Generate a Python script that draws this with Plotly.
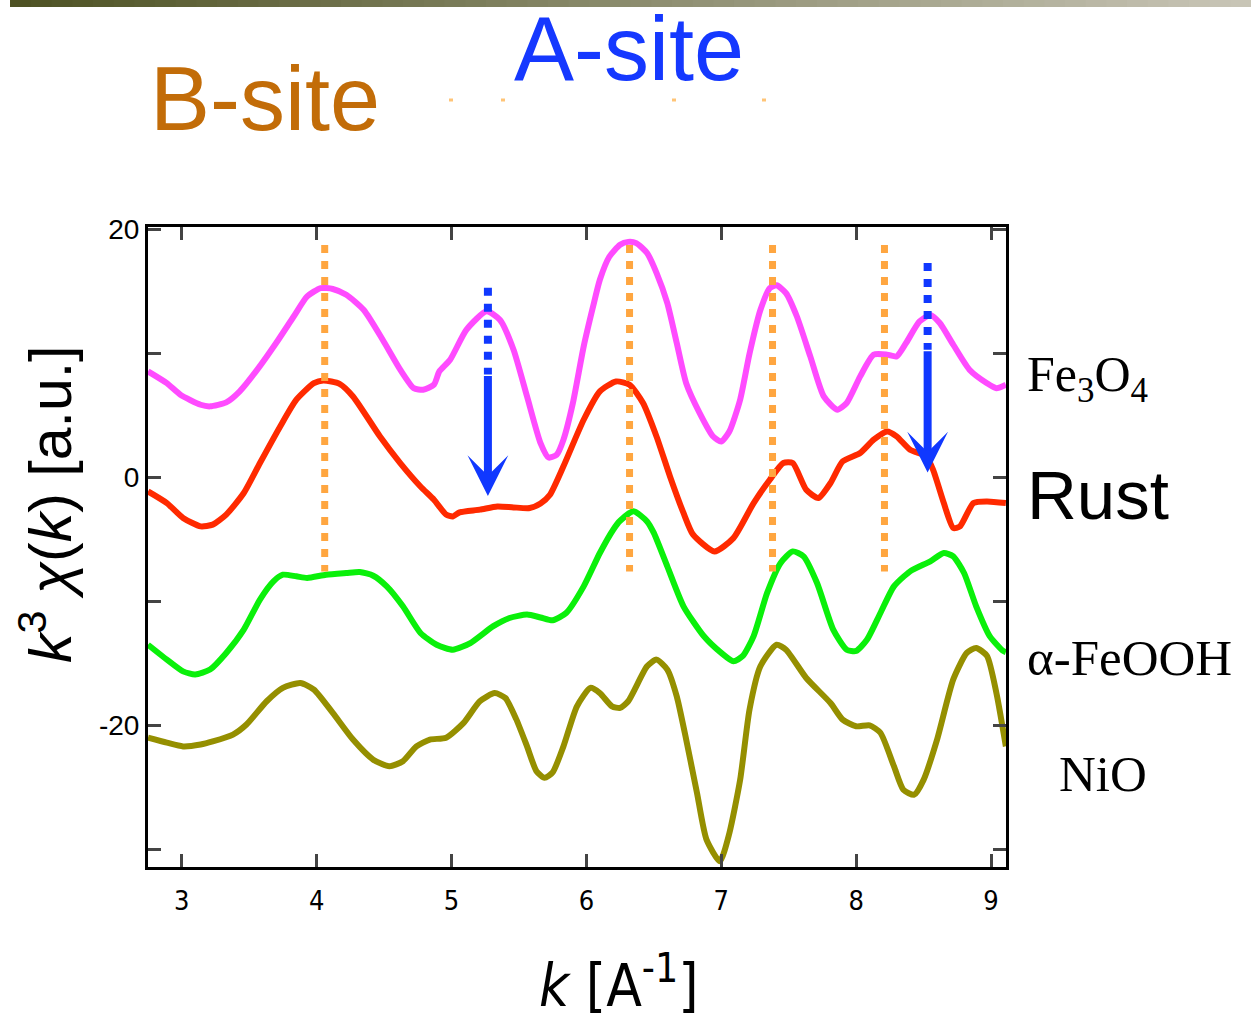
import plotly.graph_objects as go

# ---------------- data ----------------
fe3o4_k = [2.75, 2.89, 2.99, 3.14, 3.21, 3.33, 3.43, 3.56, 3.70, 3.83, 3.93, 4.03, 4.12, 4.22, 4.35, 4.49,
           4.62, 4.72, 4.79, 4.87, 4.91, 4.99, 5.11, 5.26, 5.36, 5.46, 5.56, 5.66, 5.72, 5.78, 5.83, 5.90,
           5.98, 6.05, 6.10, 6.17, 6.25, 6.31, 6.37, 6.45, 6.52, 6.60, 6.67, 6.74, 6.84, 6.94, 7.00, 7.06,
           7.14, 7.21, 7.29, 7.36, 7.41, 7.48, 7.56, 7.66, 7.76, 7.86, 7.93, 8.03, 8.13, 8.23, 8.30, 8.37,
           8.47, 8.55, 8.62, 8.72, 8.84, 8.97, 9.04, 9.11]
fe3o4_y = [8.55, 7.6, 6.67, 5.86, 5.73, 6.05, 6.94, 8.69, 10.84, 12.98, 14.6, 15.27, 15.2, 14.73, 13.5, 11.1,
           8.69, 7.2, 7.07, 7.48, 8.55, 9.49, 11.9, 13.4, 12.7, 10.3, 6.53, 2.77, 1.6, 1.83, 3.04, 6.0,
           10.56, 13.8, 15.94, 17.8, 18.77, 19.0, 18.9, 18.1, 16.5, 14.06, 10.84, 7.6, 5.19, 3.3, 2.9, 3.7,
           6.27, 10.0, 13.5, 15.27, 15.5, 14.87, 13.0, 9.76, 6.53, 5.46, 6.0, 8.15, 9.9, 9.9, 9.76, 10.84,
           12.58, 13.1, 12.45, 10.7, 8.69, 7.6, 7.2, 7.48]

rust_k = [2.75, 2.89, 3.01, 3.14, 3.23, 3.33, 3.46, 3.58, 3.73, 3.85, 3.98, 4.05, 4.17, 4.27, 4.47, 4.62,
          4.77, 4.87, 4.96, 5.01, 5.06, 5.21, 5.34, 5.46, 5.58, 5.66, 5.73, 5.83, 5.98, 6.10, 6.22, 6.32,
          6.42, 6.52, 6.62, 6.72, 6.79, 6.95, 7.09, 7.24, 7.36, 7.46, 7.53, 7.63, 7.72, 7.81, 7.90, 8.03,
          8.13, 8.23, 8.30, 8.40, 8.52, 8.57, 8.65, 8.72, 8.77, 8.87, 8.97, 9.11]
rust_y = [-1.13, -2.07, -3.27, -3.95, -3.81, -3.0, -1.26, 1.16, 4.11, 6.27, 7.6, 7.82, 7.55, 6.53, 3.3, 1.16,
          -0.73, -1.8, -3.0, -3.15, -2.82, -2.6, -2.34, -2.42, -2.47, -2.1, -1.4, 0.89, 4.65, 6.94, 7.74, 7.48,
          6.0, 3.3, 0.08, -2.87, -4.6, -5.97, -4.9, -2.07, -0.19, 1.16, 1.16, -1.0, -1.66, -0.45, 1.29, 1.97,
          3.04, 3.71, 3.31, 2.23, 1.69, 0.62, -2.07, -4.08, -3.95, -2.07, -1.94, -2.07]

feooh_k = [2.75, 2.89, 3.01, 3.10, 3.21, 3.33, 3.46, 3.58, 3.68, 3.75, 3.85, 3.93, 4.07, 4.22, 4.32, 4.42,
           4.52, 4.64, 4.77, 4.89, 5.01, 5.14, 5.31, 5.43, 5.56, 5.66, 5.75, 5.85, 5.98, 6.10, 6.20, 6.25,
           6.35, 6.45, 6.50, 6.60, 6.72, 6.87, 7.00, 7.09, 7.16, 7.24, 7.34, 7.44, 7.53, 7.61, 7.71, 7.83,
           7.93, 8.00, 8.08, 8.18, 8.28, 8.40, 8.55, 8.65, 8.72, 8.80, 8.89, 8.99, 9.09, 9.11]
feooh_y = [-13.5, -14.7, -15.65, -15.9, -15.5, -14.16, -12.28, -9.86, -8.39, -7.85, -7.98, -8.11, -7.85, -7.71, -7.63, -7.93,
           -8.79, -10.4, -12.55, -13.5, -13.9, -13.36, -12.0, -11.34, -11.07, -11.3, -11.53, -10.94, -8.79, -6.1, -4.2, -3.5,
           -2.74, -3.55, -4.48, -7.18, -10.4, -12.8, -14.16, -14.84, -14.4, -12.8, -9.32, -6.9, -5.97, -6.37, -8.52, -12.28,
           -13.9, -14.0, -13.1, -10.94, -8.79, -7.58, -6.77, -6.1, -6.37, -7.71, -10.4, -12.8, -14.0, -14.1]

nio_k = [2.75, 2.89, 3.01, 3.14, 3.23, 3.38, 3.48, 3.63, 3.75, 3.88, 3.98, 4.12, 4.27, 4.42, 4.54, 4.64,
         4.74, 4.84, 4.96, 5.09, 5.21, 5.32, 5.40, 5.48, 5.56, 5.63, 5.69, 5.75, 5.83, 5.93, 6.03, 6.10,
         6.19, 6.25, 6.31, 6.45, 6.52, 6.60, 6.67, 6.74, 6.82, 6.89, 6.99, 7.06, 7.14, 7.21, 7.29, 7.41,
         7.48, 7.63, 7.81, 7.90, 8.00, 8.10, 8.18, 8.28, 8.35, 8.43, 8.50, 8.60, 8.72, 8.82, 8.89, 8.97,
         9.04, 9.11]
nio_y = [-21.0, -21.4, -21.7, -21.55, -21.3, -20.75, -19.94, -18.06, -16.98, -16.58, -17.12, -19.0, -21.15, -22.77, -23.3, -22.9,
         -21.7, -21.15, -21.0, -19.8, -18.06, -17.4, -17.8, -19.5, -21.7, -23.7, -24.24, -23.8, -21.7, -18.47, -16.98, -17.4,
         -18.47, -18.6, -18.06, -15.24, -14.7, -15.5, -17.66, -21.15, -25.45, -29.2, -30.97, -28.7, -24.4, -18.7, -15.24, -13.5,
         -13.9, -16.18, -18.2, -19.54, -20.08, -20.0, -20.6, -23.3, -25.2, -25.6, -24.4, -21.15, -16.3, -14.16, -13.76, -14.4,
         -17.4, -21.7]

# B-site marker lines (orange dotted) and A-site arrows (blue)
bsite_k = [4.06, 6.32, 7.38, 8.21]
bsite_top = 18.75
bsite_bottom = -7.6
asite_k = [5.27, 8.53]
asite_dot_top = [15.3, 17.3]
asite_dot_end = [8.3, 10.3]
asite_tip = [-1.5, 0.4]

x_ticks = [3, 4, 5, 6, 7, 8, 9]
y_ticks = [-30, -20, -10, 0, 10, 20]
y_tick_text = ["", "-20", "", "0", "", "20"]

# ---------------- layout geometry ----------------
W, H = 1251, 1022
PL, PR, PT, PB = 148, 1006, 227, 867  # plot area in page pixels


def px(xp):
    return (xp - PL) / (PR - PL)


def py(yp):
    return (PB - yp) / (PB - PT)


fig = go.Figure()

series = [
    (fe3o4_k, fe3o4_y, "#FF4BFF"),
    (rust_k, rust_y, "#FF2A00"),
    (feooh_k, feooh_y, "#0AF00A"),
    (nio_k, nio_y, "#958F00"),
]
for ks, ys, col in series:
    assert len(ks) == len(ys)
    fig.add_trace(go.Scatter(x=ks, y=ys, mode="lines",
                             line=dict(color=col, width=6, shape="spline", smoothing=0.6),
                             showlegend=False, hoverinfo="skip"))

shapes = []
for k in bsite_k:
    shapes.append(dict(type="line", xref="x", yref="y", x0=k, x1=k, y0=bsite_top, y1=bsite_bottom,
                       line=dict(color="#FFA640", width=7, dash="8px,8px")))

annotations = []
for k, yt, ye, tip in zip(asite_k, asite_dot_top, asite_dot_end, asite_tip):
    shapes.append(dict(type="line", xref="x", yref="y", x0=k, x1=k, y0=yt, y1=ye,
                       line=dict(color="#1038FF", width=8, dash="8px,8px")))
    annotations.append(dict(x=k, y=tip, ax=k, ay=ye, xref="x", yref="y", axref="x", ayref="y",
                            text="", showarrow=True, arrowhead=3, arrowsize=0.85, arrowwidth=8,
                            arrowcolor="#1038FF", standoff=0))

# top gradient bar
n = 60
x_start, x_end = 10, 1251
c0 = (78, 82, 36)
c1 = (200, 197, 182)
for i in range(n):
    t = i / (n - 1)
    c = tuple(int(round(a + (b - a) * t)) for a, b in zip(c0, c1))
    xa = x_start + (x_end - x_start) * i / n
    xb = x_start + (x_end - x_start) * (i + 1) / n + 1
    shapes.append(dict(type="rect", xref="paper", yref="paper", x0=px(xa), x1=px(xb),
                       y0=py(7), y1=py(0), line=dict(width=0),
                       fillcolor="rgb(%d,%d,%d)" % c, layer="above"))

# small orange ticks under A-site
for xx in [451, 503, 674, 764]:
    shapes.append(dict(type="rect", xref="paper", yref="paper", x0=px(xx - 2), x1=px(xx + 2),
                       y0=py(101.5), y1=py(98.5), line=dict(width=0), fillcolor="#FFC477"))

sans = "Liberation Sans, Arial, sans-serif"
serif = "Liberation Serif, Times New Roman, serif"
narrow = "Liberation Sans Narrow, DejaVu Sans Condensed, Arial Narrow, sans-serif"

def txt(text, x, y, size, color="black", family=sans, xanchor="left", angle=0):
    annotations.append(dict(text=text, x=px(x), y=py(y), xref="paper", yref="paper",
                            xanchor=xanchor, yanchor="middle", showarrow=False, textangle=angle,
                            font=dict(family=family, size=size, color=color)))

txt("B-site", 148, 99, 90, "#C26C08")
txt("A-site", 512, 49, 90, "#1538FF")
txt("Fe<sub>3</sub>O<sub>4</sub>", 1025, 378, 50, family=serif)
txt("Rust", 1025, 495, 69)
txt("α-FeOOH", 1025, 658, 51, family=serif)
txt("NiO", 1057, 774, 51, family=serif)
txt("<i>k</i><sup>3</sup> <i>χ</i>(<i>k</i>) [a.u.]", 46, 505, 59, xanchor="center", angle=-90)
txt("<i>k</i> [A<sup>-1</sup>]", 619, 982, 58, family=narrow, xanchor="center")

fig.update_layout(
    width=W, height=H,
    margin=dict(l=PL, r=W - PR, t=PT, b=H - PB, pad=0),
    paper_bgcolor="white", plot_bgcolor="white",
    shapes=shapes, annotations=annotations,
    xaxis=dict(range=[2.75, 9.111], tickvals=x_ticks, ticks="inside", ticklen=13, tickwidth=3,
               showline=True, linewidth=3, linecolor="black", mirror="ticks", showgrid=False,
               zeroline=False, tickfont=dict(family=narrow, size=27, color="black"),
               ticklabelstandoff=8),
    yaxis=dict(range=[-31.43, 20.2], tickvals=y_ticks, ticktext=y_tick_text, ticks="inside",
               ticklen=13, tickwidth=3, showline=True, linewidth=3, linecolor="black",
               mirror="ticks", showgrid=False, zeroline=False,
               tickfont=dict(family=sans, size=28, color="black")),
)

fig.write_html("out.html", config={"displayModeBar": False},
               post_script="document.body.style.margin='0';document.body.style.overflow='hidden';")
